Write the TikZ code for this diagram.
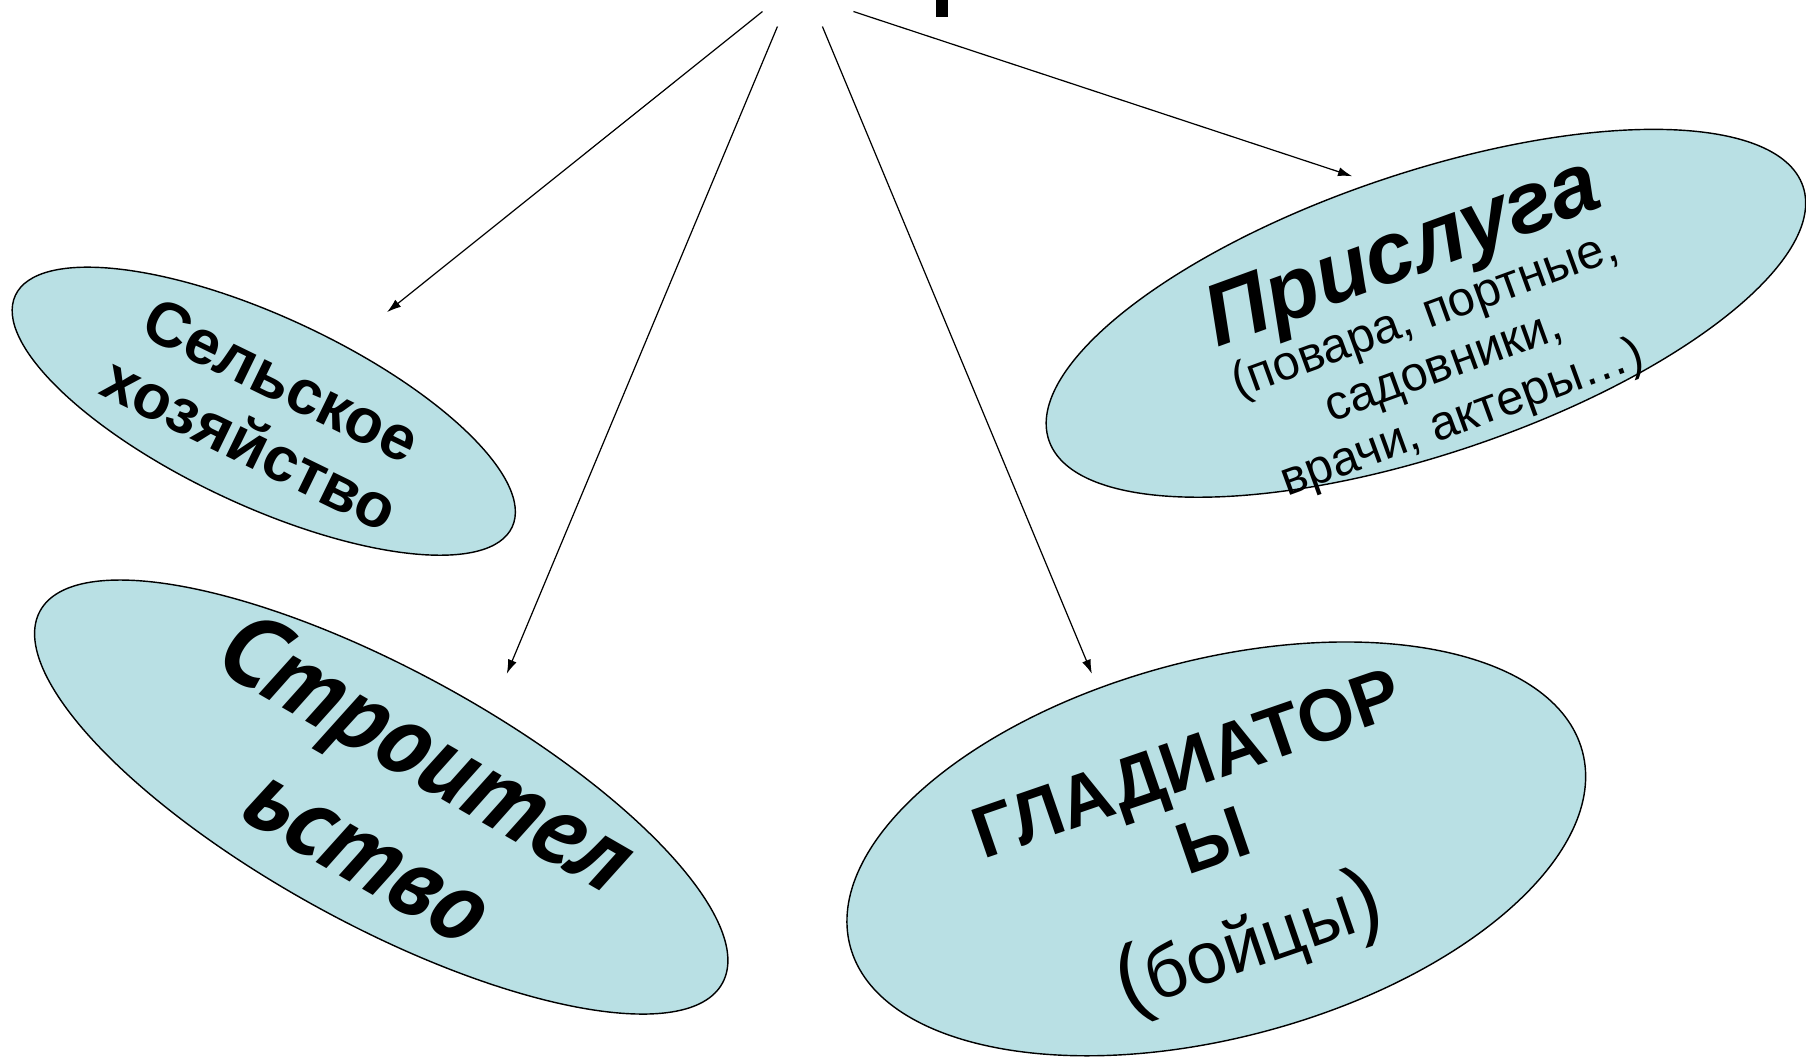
\documentclass[tikz,border=0pt]{standalone}
\usepackage{fontspec}
\setmainfont{Liberation Sans}
\newfontfamily\ptsans{PT Sans}
\usetikzlibrary{shapes.geometric, arrows.meta}
\definecolor{ovalfill}{RGB}{185,224,228}
\tikzstyle{oval} = [ellipse, draw=black, fill=ovalfill, line width=0.7pt, inner sep=0pt]
\tikzstyle{ovaltext} = [align=center, inner sep=0pt, text=black]
\tikzstyle{myarrow} = [-{Latex[length=7pt,width=4.5pt]}, line width=0.6pt]

\begin{document}
\begin{tikzpicture}[x=0.02cm, y=-0.02cm]
\useasboundingbox (0,0) rectangle (1568,917);
% ovals
\node (farm)  [oval, minimum width=9.52cm, minimum height=3.28cm, rotate=-25] at (229,357) {};
\node (build) [oval, minimum width=13.5cm, minimum height=4.42cm, rotate=-28.6] at (331,692) {};
\node (serv)  [oval, minimum width=13.82cm, minimum height=4.88cm, rotate=18.6] at (1238,272) {};
\node (glad)  [oval, minimum width=13.16cm, minimum height=6.56cm, rotate=14.9] at (1056,737) {};
% texts
\node (farmtxt)  [ovaltext, rotate=-26, font=\fontsize{31}{35}\selectfont\bfseries] at (231,358) {Сельское\\хозяйство};
\node (buildtxt) [ovaltext, rotate=-30, font=\fontsize{50}{58}\selectfont\ptsans\bfseries\itshape] at (346,696) {Строител\\ьство};
\node (servtxt)  [ovaltext, rotate=20, font=\fontsize{24}{27}\selectfont] at (1242,287)
  {{\fontsize{43}{44}\selectfont\bfseries\itshape Прислуга}\\(повара, портные,\\садовники,\\врачи, актеры…)};
\node (gladtxt)  [ovaltext, rotate=19, font=\fontsize{36}{40}\selectfont] at (1060,748)
  {\textbf{ГЛАДИАТОР}\\\textbf{Ы}\\[14pt]{\fontsize{44}{44}\selectfont(}бойцы{\fontsize{44}{44}\selectfont)}};
% top fragment
\fill (813,0) rectangle (823,15);
% arrows
\coordinate (s1) at (662,10);
\coordinate (s2) at (675,23);
\coordinate (s3) at (714,23);
\coordinate (s4) at (741,10);
\coordinate (t1) at (336,271);
\coordinate (t2) at (440,585);
\coordinate (t3) at (948,585);
\coordinate (t4) at (1174,153);
\draw [myarrow] (s1) -- (t1);
\draw [myarrow] (s2) -- (t2);
\draw [myarrow] (s3) -- (t3);
\draw [myarrow] (s4) -- (t4);
\end{tikzpicture}
\end{document}
